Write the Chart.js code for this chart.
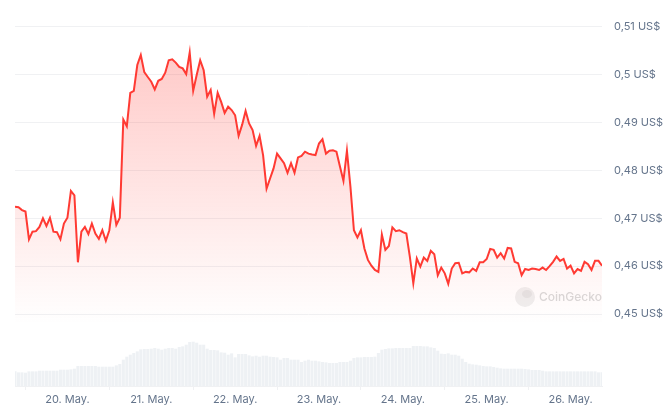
<!DOCTYPE html>
<html>
<head>
<meta charset="utf-8">
<script src="https://cdn.jsdelivr.net/npm/chart.js@4/dist/chart.umd.min.js"></script>
<style>
  html, body { margin: 0; padding: 0; background: #fff; }
  #wrap { width: 672px; height: 413px; position: relative; }
</style>
</head>
<body>
<div id="wrap"><canvas id="priceChart"></canvas></div>
<script>
// hourly prices, first point = 19 May 09:00
const prices = [
  0.4724, 0.4723, 0.4717, 0.4714, 0.4656, 0.4672, 0.4673, 0.4682, 0.4700, 0.4684,
  0.4701, 0.4672, 0.4671, 0.4656, 0.4689, 0.4701, 0.4757, 0.4748, 0.4608, 0.4672,
  0.4682, 0.4667, 0.4689, 0.4668, 0.4657, 0.4675, 0.4653, 0.4675, 0.4733, 0.4686,
  0.4701, 0.4906, 0.4892, 0.4962, 0.4966, 0.5020, 0.5041, 0.5005, 0.4995, 0.4985,
  0.4969, 0.4987, 0.4991, 0.5004, 0.5030, 0.5032, 0.5025, 0.5016, 0.5013, 0.5001,
  0.5046, 0.4966, 0.4999, 0.5030, 0.5009, 0.4954, 0.4968, 0.4918, 0.4962, 0.4943,
  0.4920, 0.4933, 0.4926, 0.4915, 0.4872, 0.4895, 0.4924, 0.4898, 0.4884, 0.4851,
  0.4872, 0.4832, 0.4762, 0.4783, 0.4804, 0.4835, 0.4825, 0.4815, 0.4795, 0.4815,
  0.4795, 0.4827, 0.4830, 0.4839, 0.4835, 0.4833, 0.4832, 0.4856, 0.4865, 0.4835,
  0.4841, 0.4842, 0.4839, 0.4808, 0.4778, 0.4841, 0.4766, 0.4675, 0.4660, 0.4675,
  0.4637, 0.4613, 0.4601, 0.4592, 0.4588, 0.4666, 0.4634, 0.4642, 0.4681, 0.4673,
  0.4675, 0.4671, 0.4668, 0.4620, 0.4564, 0.4616, 0.4599, 0.4618, 0.4611, 0.4632,
  0.4625, 0.4581, 0.4597, 0.4585, 0.4563, 0.4595, 0.4606, 0.4607, 0.4585, 0.4588,
  0.4587, 0.4595, 0.4590, 0.4608, 0.4608, 0.4615, 0.4636, 0.4634, 0.4618, 0.4627,
  0.4616, 0.4638, 0.4637, 0.4609, 0.4606, 0.4581, 0.4594, 0.4592, 0.4595, 0.4594,
  0.4592, 0.4597, 0.4592, 0.4600, 0.4609, 0.4620, 0.4611, 0.4615, 0.4595, 0.4601,
  0.4585, 0.4594, 0.4590, 0.4609, 0.4604, 0.4592, 0.4611, 0.4611, 0.4601
];

// hourly volume (relative units)
const volumes = [
  14.3, 13.3, 13.3, 13.0, 14.3, 14.3, 14.3, 15.0, 15.0, 15.0,
  15.0, 15.0, 15.0, 16.0, 16.0, 16.0, 16.3, 17.0, 19.7, 19.7,
  19.7, 19.7, 19.7, 19.7, 19.0, 19.0, 19.0, 19.0, 19.0, 20.3,
  21.7, 26.0, 29.0, 31.0, 32.7, 34.3, 36.3, 36.7, 36.7, 37.0,
  37.7, 37.0, 36.0, 37.0, 37.7, 37.7, 37.0, 38.7, 39.3, 41.0,
  43.7, 44.0, 43.0, 41.0, 41.0, 37.0, 35.7, 35.7, 35.3, 33.3,
  33.0, 31.0, 32.3, 28.3, 31.7, 31.7, 31.7, 30.3, 29.3, 30.0,
  29.0, 30.0, 30.0, 29.0, 28.7, 28.3, 26.0, 27.7, 27.7, 26.0,
  26.0, 26.0, 23.7, 25.0, 26.0, 25.0, 25.0, 24.3, 23.7, 23.3,
  22.7, 22.7, 22.7, 23.7, 23.7, 23.7, 25.0, 27.7, 28.3, 28.3,
  28.7, 28.7, 28.7, 29.0, 32.7, 36.0, 36.7, 37.3, 37.3, 37.7,
  37.7, 37.7, 37.7, 37.7, 39.7, 39.7, 39.7, 39.3, 39.3, 38.3,
  37.7, 35.0, 32.0, 31.7, 32.3, 31.0, 31.0, 30.0, 27.0, 23.7,
  22.0, 21.3, 21.0, 20.3, 19.7, 19.3, 19.3, 18.7, 18.0, 17.3,
  17.0, 17.0, 17.0, 17.0, 17.0, 17.0, 16.7, 16.3, 15.7, 15.7,
  15.7, 15.0, 14.3, 14.3, 14.3, 14.3, 14.3, 14.3, 14.3, 14.3,
  14.3, 14.3, 14.3, 14.3, 14.3, 14.3, 14.3, 13.3, 13.3
];

// midnight positions (hour index) and their labels
const dayTickHours = [15, 39, 63, 87, 111, 135, 159];
const dayLabels = ['20. May.', '21. May.', '22. May.', '23. May.', '24. May.', '25. May.', '26. May.'];
const priceTicks = [0.45, 0.46, 0.47, 0.48, 0.49, 0.50, 0.51];

const labelColor = '#64748b';
const gridColor = '#f0f1f3';

const watermark = {
  id: 'watermark',
  beforeDatasetsDraw(chart) {
    const ctx = chart.ctx;
    ctx.save();
    ctx.fillStyle = '#efefef';
    ctx.beginPath();
    ctx.arc(525, 297, 10, 0, Math.PI * 2);
    ctx.fill();
    ctx.fillStyle = '#e4e4e4';
    ctx.beginPath();
    ctx.ellipse(527, 294, 5, 4, 0, 0, Math.PI * 2);
    ctx.fill();
    ctx.fillStyle = '#d9d9d9';
    ctx.font = '500 12px Inter, "Noto Sans", sans-serif';
    ctx.textBaseline = 'middle';
    ctx.fillText('CoinGecko', 539, 297);
    ctx.restore();
  }
};

const ctx = document.getElementById('priceChart');
new Chart(ctx, {
  type: 'line',
  data: {
    datasets: [{
      type: 'line',
      data: prices.map((p, i) => ({ x: i, y: p })),
      yAxisID: 'y',
      borderColor: 'rgb(255, 58, 51)',
      borderWidth: 2,
      pointRadius: 0,
      tension: 0,
      fill: 'start',
      backgroundColor: (c) => {
        const chart = c.chart;
        const area = chart.chartArea;
        if (!area) return 'rgba(255,58,51,0.2)';
        const g = chart.ctx.createLinearGradient(0, area.top + 30, 0, chart.scales.y.getPixelForValue(0.448));
        g.addColorStop(0, 'rgba(255, 58, 51, 0.27)');
        g.addColorStop(1, 'rgba(255, 58, 51, 0)');
        return g;
      },
      order: 1
    }, {
      type: 'bar',
      data: volumes.map((v, i) => ({ x: i, y: v })),
      yAxisID: 'vol',
      backgroundColor: '#eef1f4',
      barThickness: 2.4,
      order: 2
    }]
  },
  options: {
    responsive: true,
    maintainAspectRatio: false,
    animation: false,
    layout: { padding: { left: 15, top: 20, right: 0, bottom: 0 } },
    plugins: { legend: { display: false }, tooltip: { enabled: false } },
    scales: {
      x: {
        type: 'linear',
        min: 0,
        max: 168,
        offset: false,
        afterBuildTicks: (scale) => { scale.ticks = dayTickHours.map(v => ({ value: v })); },
        afterFit: (scale) => { scale.height = 27; },
        ticks: {
          autoSkip: false,
          maxRotation: 0,
          padding: 3,
          color: labelColor,
          font: { family: 'Inter, "Noto Sans", sans-serif', size: 11 },
          callback: (v) => dayLabels[dayTickHours.indexOf(v)]
        },
        grid: { drawOnChartArea: false, drawTicks: true, tickLength: 4, color: gridColor },
        border: { display: true, color: gridColor }
      },
      y: {
        position: 'right',
        min: 0.43497,
        max: 0.5114,
        afterBuildTicks: (scale) => { scale.ticks = priceTicks.map(v => ({ value: v })); },
        afterFit: (scale) => { scale.width = 70; },
        ticks: {
          padding: 12,
          color: labelColor,
          font: { family: 'Inter, "Noto Sans", sans-serif', size: 11 },
          callback: (v) => String(Number(v.toFixed(2))).replace('.', ',') + ' US$'
        },
        grid: { color: gridColor, drawTicks: false },
        border: { display: false }
      },
      vol: {
        display: false,
        min: 0,
        max: 366
      }
    }
  },
  plugins: [watermark]
});
</script>
</body>
</html>
